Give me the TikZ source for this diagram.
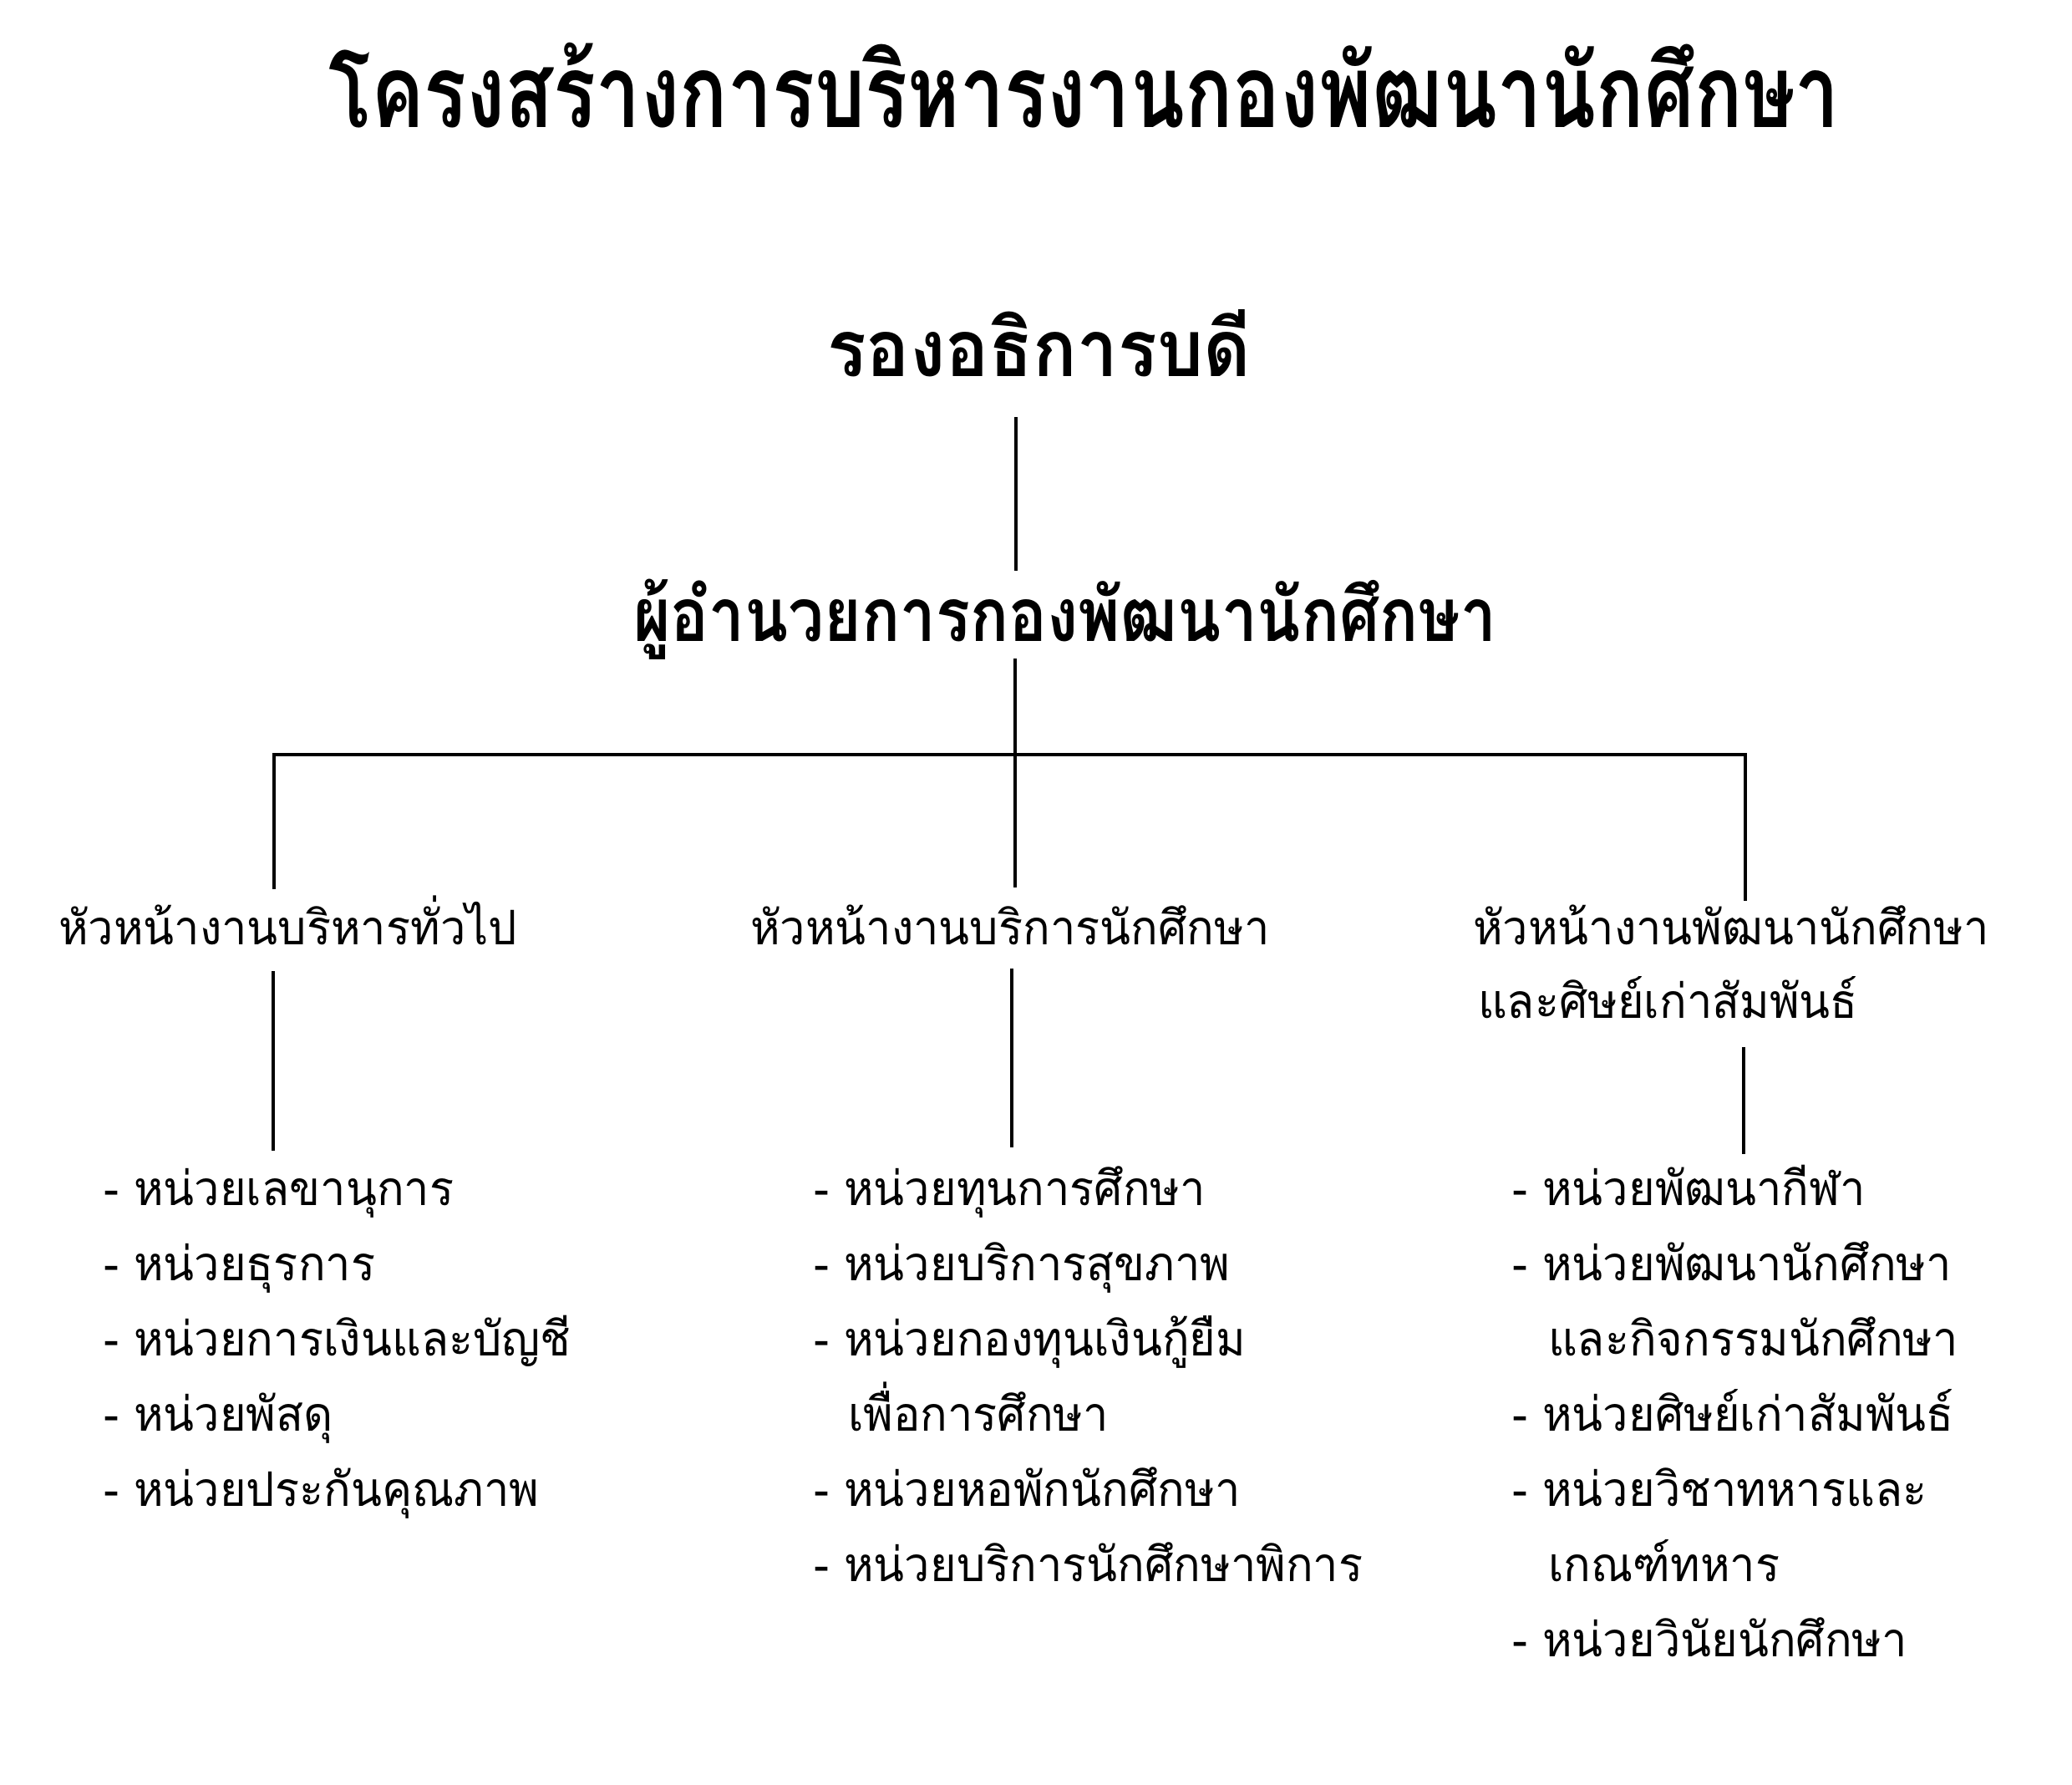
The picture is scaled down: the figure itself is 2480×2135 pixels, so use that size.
\documentclass[tikz,border=0pt]{standalone}
\usepackage{fontspec}
\usepackage{graphicx}
\newfontfamily\thaifont[Script=Thai]{Loma}
\newsavebox\tmpbox
\newsavebox\refbox
\newcommand\bodyfont{\thaifont\fontsize{20}{24}\selectfont}
\newcommand\boldfont{\thaifont\bfseries\fontsize{20}{24}\selectfont}
% fit bold text: #1 width px, #2 x-height px, #3 text
\newcommand\fitbold[3]{%
  \sbox\tmpbox{\boldfont #3}\sbox\refbox{\boldfont น}%
  \pgfmathsetmacro\fsx{#1*0.250937/\wd\tmpbox}%
  \pgfmathsetmacro\fsy{#2*0.250937/\ht\refbox}%
  \scalebox{\fsx}[\fsy]{\usebox\tmpbox}}
\newcommand\bt[1]{\scalebox{\bsx}[\bsy]{\bodyfont #1}}
\tikzset{
  txt/.style={inner sep=0pt, outer sep=0pt, anchor=base west},
  conn/.style={line width=1.2bp, black}
}
\begin{document}
\sbox\tmpbox{\bodyfont หัวหน้างานบริหารทั่วไป}\sbox\refbox{\bodyfont น}%
\pgfmathsetmacro\bsx{549*0.250937/\wd\tmpbox}%
\pgfmathsetmacro\bsy{32*0.250937/\ht\refbox}%
\begin{tikzpicture}[x=0.25bp, y=-0.25bp]
\useasboundingbox[fill=white] (0,0) rectangle (2480,2135);

% top levels
\node[txt] (title) at (393,152) {\fitbold{1809}{68}{โครงสร้างการบริหารงานกองพัฒนานักศึกษา}};
\node[txt] (vp) at (990,450) {\fitbold{507}{53}{รองอธิการบดี}};
\node[txt] (dir) at (758,767) {\fitbold{1033}{50}{ผู้อำนวยการกองพัฒนานักศึกษา}};

% headings
\node[txt] (hl) at (70,1130) {\bt{หัวหน้างานบริหารทั่วไป}};
\node[txt] (hm) at (898,1130) {\bt{หัวหน้างานบริการนักศึกษา}};
\node[txt] (hr) at (1763,1130) {\bt{หัวหน้างานพัฒนานักศึกษา}};
\node[txt] (hr2) at (1769,1218) {\bt{และศิษย์เก่าสัมพันธ์}};

% left list
\node[txt] (l1) at (124,1442) {\bt{- หน่วยเลขานุการ}};
\node[txt] (l2) at (124,1532) {\bt{- หน่วยธุรการ}};
\node[txt] (l3) at (124,1622) {\bt{- หน่วยการเงินและบัญชี}};
\node[txt] (l4) at (124,1712) {\bt{- หน่วยพัสดุ}};
\node[txt] (l5) at (124,1802) {\bt{- หน่วยประกันคุณภาพ}};

% middle list
\node[txt] (m1) at (974,1442) {\bt{- หน่วยทุนการศึกษา}};
\node[txt] (m2) at (974,1532) {\bt{- หน่วยบริการสุขภาพ}};
\node[txt] (m3) at (974,1622) {\bt{- หน่วยกองทุนเงินกู้ยืม}};
\node[txt] (m3b) at (1015,1712) {\bt{เพื่อการศึกษา}};
\node[txt] (m4) at (974,1802) {\bt{- หน่วยหอพักนักศึกษา}};
\node[txt] (m5) at (974,1892) {\bt{- หน่วยบริการนักศึกษาพิการ}};

% right list
\node[txt] (r1) at (1810,1442) {\bt{- หน่วยพัฒนากีฬา}};
\node[txt] (r2) at (1810,1532) {\bt{- หน่วยพัฒนานักศึกษา}};
\node[txt] (r2b) at (1853,1622) {\bt{และกิจกรรมนักศึกษา}};
\node[txt] (r3) at (1810,1712) {\bt{- หน่วยศิษย์เก่าสัมพันธ์}};
\node[txt] (r4) at (1810,1802) {\bt{- หน่วยวิชาทหารและ}};
\node[txt] (r4b) at (1853,1892) {\bt{เกณฑ์ทหาร}};
\node[txt] (r5) at (1810,1982) {\bt{- หน่วยวินัยนักศึกษา}};

% connector points
\coordinate (vpS) at (1216,499);
\coordinate (dirN) at (1216,683);
\coordinate (dirS) at (1215,788);
\coordinate (midN) at (1215,1062);
\coordinate (barL) at (328,903);
\coordinate (barR) at (2089,903);
\coordinate (leftN) at (328,1064);
\coordinate (rightN) at (2089,1078);
\coordinate (leftS) at (327,1162);
\coordinate (leftL) at (327,1377);
\coordinate (midS) at (1211,1159);
\coordinate (midL) at (1211,1373);
\coordinate (rightS) at (2087,1253);
\coordinate (rightL) at (2087,1381);

\draw[conn] (vpS) -- (dirN);
\draw[conn] (dirS) -- (midN);
\draw[conn] (leftN) -- (barL) -- (barR) -- (rightN);
\draw[conn] (leftS) -- (leftL);
\draw[conn] (midS) -- (midL);
\draw[conn] (rightS) -- (rightL);
\end{tikzpicture}
\end{document}
